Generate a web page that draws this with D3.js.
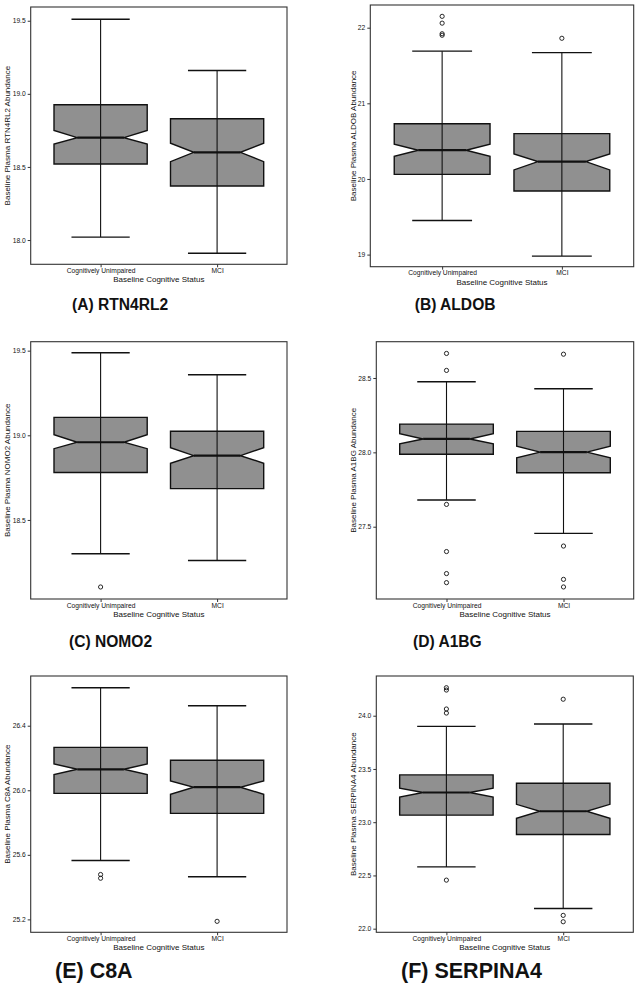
<!DOCTYPE html>
<html lang="en">
<head>
<meta charset="UTF-8">
<title>Baseline plasma protein abundance by cognitive status</title>
<script src="https://cdn.jsdelivr.net/npm/d3@7"></script>
<style>
    body { margin: 0; background: #fff; }
    svg text { font-family: "Liberation Sans", Arial, sans-serif; fill: #111; }
    .caption { font-weight: bold; }
</style>
</head>
<body>
<svg id="fig" width="637" height="983"></svg>
<script>
// groups on the x axis
var groups = ["Cognitively Unimpaired", "MCI"];

// one entry per panel, A..F
var captions = ["(A) RTN4RL2", "(B) ALDOB", "(C) NOMO2", "(D) A1BG", "(E) C8A", "(F) SERPINA4"];
var proteins = ["RTN4RL2", "ALDOB", "NOMO2", "A1BG", "C8A", "SERPINA4"];

// box statistics, [Cognitively Unimpaired, MCI]
var lowerWhisker = [[18.02, 17.91], [19.45, 18.98], [18.30, 18.26], [27.68, 27.455], [25.565, 25.464], [22.58, 22.19]];
var q1 = [[18.52, 18.37], [20.06, 19.84], [18.78, 18.685], [27.987, 27.863], [25.981, 25.857], [23.066, 22.884]];
var median = [[18.70, 18.60], [20.38, 20.23], [18.959, 18.88], [28.09, 28.002], [26.13, 26.019], [23.279, 23.103]];
var q3 = [[18.925, 18.83], [20.73, 20.60], [19.106, 19.024], [28.19, 28.141], [26.266, 26.186], [23.444, 23.366]];
var upperWhisker = [[19.51, 19.16], [21.69, 21.67], [19.488, 19.358], [28.475, 28.428], [26.635, 26.524], [23.90, 23.922]];
var notchLow = [[18.656, 18.536], [20.30, 20.12], [18.921, 18.835], [28.058, 27.964], [26.097, 25.975], [23.235, 23.037]];
var notchHigh = [[18.749, 18.662], [20.46, 20.33], [19.004, 18.927], [28.125, 28.042], [26.163, 26.058], [23.32, 23.168]];
var outliers = [
    [[], []],
    [[22.15, 22.06, 21.92, 21.90], [21.86]],
    [[18.104], []],
    [[28.665, 28.551, 27.65, 27.333, 27.185, 27.124], [28.66, 27.37, 27.146, 27.095]],
    [[25.478, 25.455], [25.188]],
    [[24.263, 24.241, 24.063, 24.025, 22.456], [24.155, 22.125, 22.065]]
];

// axes
var yDomains = [[17.834, 19.594], [18.84, 22.30], [18.033, 19.553], [27.014, 28.744], [25.12, 26.708], [21.966, 24.373]];
var yTicks = [
    [18.0, 18.5, 19.0, 19.5],
    [19, 20, 21, 22],
    [18.5, 19.0, 19.5],
    [27.5, 28.0, 28.5],
    [25.2, 25.6, 26.0, 26.4],
    [22.0, 22.5, 23.0, 23.5, 24.0]
];
var yFormats = [".1f", "d", ".1f", ".1f", ".1f", ".1f"];

// where each panel sits on the page
var frames = [
    {x0: 30.7, x1: 287, y0: 7, y1: 264.3, titleX: 7.3},
    {x0: 370.3, x1: 633.7, y0: 5, y1: 266.7, titleX: 353},
    {x0: 30.7, x1: 287, y0: 341.7, y1: 599, titleX: 7.3},
    {x0: 376.3, x1: 633.7, y0: 341.7, y1: 599, titleX: 353},
    {x0: 30.7, x1: 287, y0: 676, y1: 932.3, titleX: 7.3},
    {x0: 376.3, x1: 633.3, y0: 676, y1: 932.3, titleX: 353}
];
var captionPos = [
    {x: 72, y: 310, size: 15.6},
    {x: 414.7, y: 310, size: 15.6},
    {x: 69, y: 647, size: 15.6},
    {x: 413, y: 647, size: 15.6},
    {x: 55, y: 978, size: 21.5},
    {x: 401, y: 978, size: 21.5}
];

var svg = d3.select("#fig");

frames.forEach(function (f, p) {
    var g = svg.append("g");

    var x = d3.scalePoint().domain(groups).range([f.x0, f.x1]).padding(0.6);
    var y = d3.scaleLinear().domain(yDomains[p]).range([f.y1, f.y0]);
    var unit = x.step();
    var boxW = unit * 0.8, capW = unit * 0.5;

    // y axis
    var ya = g.append("g")
        .attr("transform", "translate(" + f.x0 + ",0)")
        .call(d3.axisLeft(y).tickValues(yTicks[p]).tickFormat(d3.format(yFormats[p])).tickSize(3).tickPadding(2));
    ya.select(".domain").remove();
    ya.selectAll("line").attr("stroke", "#333");
    ya.selectAll("text").attr("font-size", 6.7).attr("fill", "#111")
        .attr("font-family", "Liberation Sans, Arial, sans-serif");

    // x axis
    var xa = g.append("g")
        .attr("transform", "translate(0," + f.y1 + ")")
        .call(d3.axisBottom(x).tickSize(3).tickPadding(1));
    xa.select(".domain").remove();
    xa.selectAll("line").attr("stroke", "#333");
    xa.selectAll("text").attr("font-size", 6.7).attr("fill", "#111")
        .attr("font-family", "Liberation Sans, Arial, sans-serif");

    // boxes
    groups.forEach(function (grp, i) {
        var cx = x(grp);
        var l = cx - boxW / 2, r = cx + boxW / 2;
        var nl = l + boxW / 4, nr = r - boxW / 4;
        var pts = [
            [l, y(q3[p][i])], [r, y(q3[p][i])],
            [r, y(notchHigh[p][i])], [nr, y(median[p][i])], [r, y(notchLow[p][i])],
            [r, y(q1[p][i])], [l, y(q1[p][i])],
            [l, y(notchLow[p][i])], [nl, y(median[p][i])], [l, y(notchHigh[p][i])]
        ];
        g.append("path")
            .attr("d", d3.line()(pts) + "Z")
            .attr("fill", "#909090")
            .attr("stroke", "#111")
            .attr("stroke-width", 1.4);

        g.append("line")
            .attr("x1", nl).attr("x2", nr)
            .attr("y1", y(median[p][i])).attr("y2", y(median[p][i]))
            .attr("stroke", "#111").attr("stroke-width", 2.2);

        // error bar on top of the box
        g.append("line")
            .attr("x1", cx).attr("x2", cx)
            .attr("y1", y(lowerWhisker[p][i])).attr("y2", y(upperWhisker[p][i]))
            .attr("stroke", "#111").attr("stroke-width", 1.1);
        [lowerWhisker[p][i], upperWhisker[p][i]].forEach(function (v) {
            g.append("line")
                .attr("x1", cx - capW / 2).attr("x2", cx + capW / 2)
                .attr("y1", y(v)).attr("y2", y(v))
                .attr("stroke", "#111").attr("stroke-width", 1.4);
        });

        g.selectAll(null).data(outliers[p][i]).enter().append("circle")
            .attr("cx", cx).attr("cy", function (d) { return y(d); })
            .attr("r", 2.1)
            .attr("fill", "none").attr("stroke", "#111").attr("stroke-width", 0.9);
    });

    // panel border
    g.append("rect")
        .attr("x", f.x0).attr("y", f.y0)
        .attr("width", f.x1 - f.x0).attr("height", f.y1 - f.y0)
        .attr("fill", "none").attr("stroke", "#333").attr("stroke-width", 1.1);

    // axis titles
    g.append("text")
        .attr("x", (f.x0 + f.x1) / 2).attr("y", f.y1 + 18)
        .attr("text-anchor", "middle").attr("font-size", 8)
        .text("Baseline Cognitive Status");
    g.append("text")
        .attr("transform", "translate(" + f.titleX + "," + ((f.y0 + f.y1) / 2) + ") rotate(-90)")
        .attr("text-anchor", "middle").attr("dy", "0.35em").attr("font-size", 8)
        .text("Baseline Plasma " + proteins[p] + " Abundance");

    // caption
    g.append("text").attr("class", "caption")
        .attr("x", captionPos[p].x).attr("y", captionPos[p].y)
        .attr("font-size", captionPos[p].size)
        .text(captions[p]);
});
</script>
</body>
</html>
